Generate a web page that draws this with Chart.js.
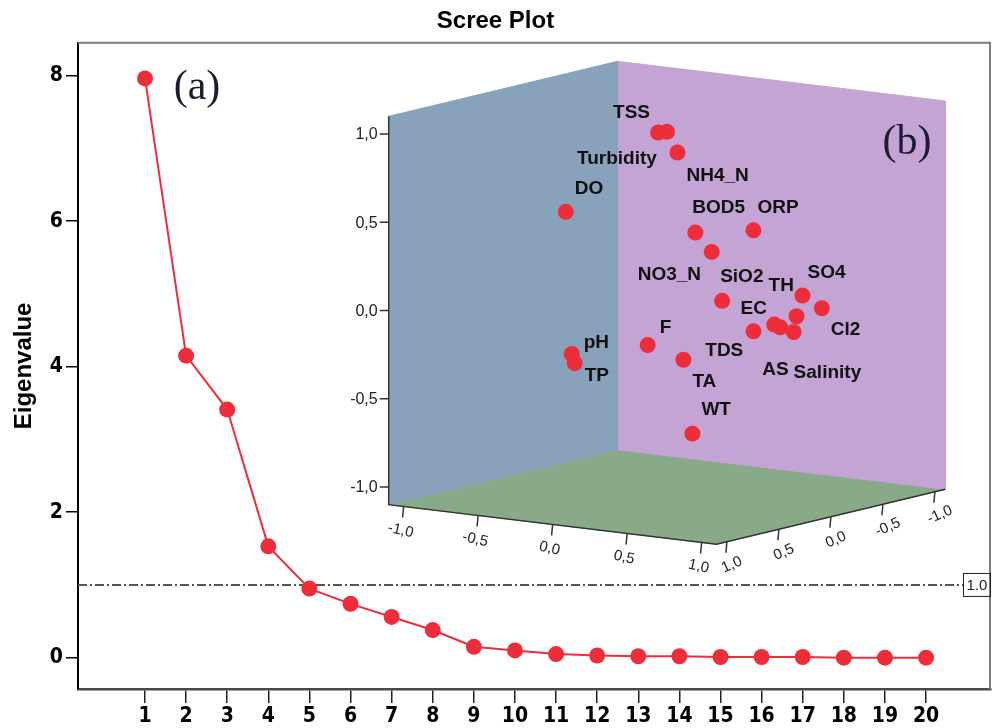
<!DOCTYPE html>
<html>
<head>
<meta charset="utf-8">
<script src="https://cdn.jsdelivr.net/npm/chart.js@4.4.1/dist/chart.umd.min.js"></script>
<style>
    body { margin: 0; background: #fff; }
    #wrap { position: relative; width: 995px; height: 728px; }
    #wrap canvas { position: absolute; left: 0; top: 0; }
    #inset { pointer-events: none; }
</style>
</head>
<body>
<div id="wrap">
    <canvas id="scree" width="995" height="728"></canvas>
    <canvas id="inset" width="995" height="728"></canvas>
</div>
<script>
// scree plot data
const components = [1, 2, 3, 4, 5, 6, 7, 8, 9, 10, 11, 12, 13, 14, 15, 16, 17, 18, 19, 20];
const eigenvalues = [7.96, 4.15, 3.41, 1.53, 0.95, 0.74, 0.56, 0.38, 0.15, 0.10, 0.05, 0.03, 0.02, 0.02, 0.01, 0.01, 0.01, 0.00, 0.00, 0.00];
const yTicks = [0, 2, 4, 6, 8];
const cutoff = 1.0;

// component plot (b) data: loadings on the three plotted axes
const variables = ['TSS', 'Turbidity', 'NH4_N', 'DO', 'BOD5', 'ORP', 'NO3_N', 'SiO2', 'SO4', 'Cl2',
                   'TH', 'TDS', 'AS', 'Salinity', 'EC', 'F', 'pH', 'TP', 'TA', 'WT'];
const loadVertical = [0.98, 0.99, 0.88, 0.51, 0.46, 0.47, 0.34, 0.07, 0.07, -0.01,
                      -0.03, -0.05, -0.04, -0.10, -0.06, -0.21, -0.27, -0.32, -0.29, -0.66];
const loadLeft = [0.01, 0.07, 0.14, -0.47, 0.33, 0.58, 0.37, 0.44, 0.70, 0.76,
                  0.73, 0.72, 0.83, 0.78, 0.72, 0.01, -0.36, -0.34, 0.18, 0.38];
const loadRight = [0.1, 0.1, 0.1, 0.3, 0.2, 0.0, 0.1, 0.1, -0.3, -0.4,
                   -0.2, 0.0, 0.1, -0.1, 0.2, 0.2, 0.4, 0.4, 0.1, 0.3];
const cubeTicks = [-1.0, -0.5, 0.0, 0.5, 1.0];

// label offsets from each point (px)
const labelOffsets = [[-45, -20], [-90, 27], [9, 23], [9, -23], [-3, -25], [4, -23], [-74, 23], [-2, -24], [5, -23], [9, 22],
                      [-28, -30], [-69, 26], [-18, 42], [0, 41], [-13, -23], [12, -17], [12, -11], [10, 13], [9, 22], [9, -24]];

const RED = '#ee2d3a';
const SANS = "'Liberation Sans', Arial, sans-serif";
const NARROW = "'Liberation Sans Narrow', 'DejaVu Sans', sans-serif";
const SERIF = "'Liberation Serif', 'Times New Roman', serif";

// ---------- main scree chart ----------
const screeDecor = {
    id: 'screeDecor',
    beforeDatasetsDraw(chart) {
        const { ctx, chartArea: a, scales: { y } } = chart;
        ctx.save();
        // top and right frame
        ctx.strokeStyle = '#7a7a7a';
        ctx.lineWidth = 2;
        ctx.beginPath();
        ctx.moveTo(a.left, a.top);
        ctx.lineTo(a.right - 1, a.top);
        ctx.lineTo(a.right - 1, a.bottom);
        ctx.stroke();

        // eigenvalue = 1 reference line
        const yp = y.getPixelForValue(cutoff);
        const boxL = a.right - 28;
        ctx.strokeStyle = '#555';
        ctx.lineWidth = 2;
        ctx.setLineDash([9, 3, 2, 3]);
        ctx.beginPath();
        ctx.moveTo(a.left, yp);
        ctx.lineTo(boxL, yp);
        ctx.stroke();
        ctx.setLineDash([]);
        ctx.lineWidth = 1;
        ctx.strokeStyle = '#222';
        ctx.strokeRect(boxL + 0.5, yp - 11.5, a.right - boxL - 1, 23);
        ctx.fillStyle = '#222';
        ctx.font = '15px ' + SANS;
        ctx.textAlign = 'center';
        ctx.textBaseline = 'middle';
        ctx.fillText(cutoff.toFixed(1), (boxL + a.right) / 2, yp + 1);

        // panel letter
        ctx.fillStyle = '#1c1c30';
        ctx.font = '42px ' + SERIF;
        ctx.fillText('(a)', 197, 88);
        ctx.restore();
    }
};

new Chart(document.getElementById('scree'), {
    type: 'line',
    data: {
        datasets: [{
            data: components.map((c, i) => ({ x: c, y: eigenvalues[i] })),
            borderColor: RED,
            borderWidth: 2,
            backgroundColor: RED,
            pointRadius: 8,
            pointHoverRadius: 8,
            pointBorderWidth: 0,
            tension: 0
        }]
    },
    options: {
        responsive: false,
        animation: false,
        devicePixelRatio: 1,
        layout: { autoPadding: false, padding: { left: 0, right: 4, top: 0, bottom: 0 } },
        scales: {
            x: {
                type: 'linear',
                min: -0.63,
                max: 21.58,
                afterBuildTicks: scale => { scale.ticks = components.map(v => ({ value: v })); },
                afterFit: scale => { scale.height = 39; },
                grid: { drawOnChartArea: false, drawTicks: true, tickLength: 14, color: '#222', lineWidth: 1.5 },
                border: { color: '#4a4a4a', width: 2.5 },
                ticks: { color: '#000', padding: 1, maxRotation: 0, font: { family: NARROW, size: 21, weight: 'bold condensed' } }
            },
            y: {
                min: -0.43,
                max: 8.45,
                afterBuildTicks: scale => { scale.ticks = yTicks.map(v => ({ value: v })); },
                afterFit: scale => { scale.width = 78; },
                grid: { drawOnChartArea: false, drawTicks: true, tickLength: 12, color: '#000', lineWidth: 1.5 },
                border: { color: '#000', width: 2 },
                ticks: { color: '#000', padding: 3, font: { family: NARROW, size: 21, weight: 'bold condensed' } },
                title: {
                    display: true,
                    text: 'Eigenvalue',
                    color: '#000',
                    padding: { top: 10, bottom: 0 },
                    font: { family: SANS, size: 24, weight: 'bold' }
                }
            }
        },
        plugins: {
            legend: { display: false },
            tooltip: { enabled: false },
            title: {
                display: true,
                text: 'Scree Plot',
                color: '#000',
                padding: { top: 7, bottom: 7 },
                font: { family: SANS, size: 24, weight: 'bold' }
            }
        }
    },
    plugins: [screeDecor]
});

// ---------- inset component plot ----------
// oblique projection of the (left, right, vertical) axes onto the page
const proj = { ox: 667, oy: 302.8, ax: 149, ay: 18, cx: -104, cy: 25, hy: 176.5 };
const E = 1.1;

function project(a, c, h) {
    return { x: proj.ox + proj.ax * a + proj.cx * c, y: proj.oy + proj.ay * a + proj.cy * c - proj.hy * h };
}

function polygon(corners) {
    const pts = corners.map(p => project(p[0], p[1], p[2]));
    pts.push(pts[0]);
    return pts;
}

function face(corners, color) {
    return {
        data: polygon(corners),
        order: 2,
        showLine: true,
        fill: 'shape',
        backgroundColor: color,
        borderColor: color,
        borderWidth: 1,
        pointRadius: 0,
        pointHoverRadius: 0
    };
}

const fmt = v => v.toFixed(1).replace('.', ',');

const insetDecor = {
    id: 'insetDecor',
    afterDatasetsDraw(chart) {
        const { ctx } = chart;
        ctx.save();
        ctx.strokeStyle = '#333';
        ctx.lineWidth = 1.5;

        // visible cube edges
        const lb = project(-E, E, -E), lt = project(-E, E, E), fr = project(E, E, -E), rt = project(E, -E, -E);
        ctx.beginPath();
        ctx.moveTo(lt.x, lt.y);
        ctx.lineTo(lb.x, lb.y);
        ctx.lineTo(fr.x, fr.y);
        ctx.lineTo(rt.x, rt.y);
        ctx.stroke();

        ctx.fillStyle = '#222';
        ctx.font = '16px ' + SANS;

        // vertical axis
        ctx.textAlign = 'right';
        ctx.textBaseline = 'middle';
        cubeTicks.forEach(v => {
            const p = project(-E, E, v);
            ctx.beginPath();
            ctx.moveTo(p.x - 9, p.y);
            ctx.lineTo(p.x, p.y);
            ctx.stroke();
            ctx.fillText(fmt(v), p.x - 11, p.y + 1);
        });

        // front-left floor axis
        ctx.textAlign = 'center';
        ctx.font = '15px ' + SANS;
        cubeTicks.forEach(v => {
            const p = project(v, E, -E);
            ctx.beginPath();
            ctx.moveTo(p.x, p.y);
            ctx.lineTo(p.x - 1, p.y + 11);
            ctx.stroke();
            ctx.save();
            ctx.translate(p.x - 3, p.y + 24);
            ctx.rotate(0.22);
            ctx.fillText(fmt(v), 0, 0);
            ctx.restore();
        });

        // front-right floor axis
        cubeTicks.forEach(v => {
            const p = project(E, v, -E);
            ctx.beginPath();
            ctx.moveTo(p.x, p.y);
            ctx.lineTo(p.x - 1, p.y + 11);
            ctx.stroke();
            ctx.save();
            ctx.translate(p.x + 5, p.y + 23);
            ctx.rotate(-0.42);
            ctx.fillText(fmt(v), 0, 0);
            ctx.restore();
        });

        // point labels
        const meta = chart.getDatasetMeta(0);
        ctx.fillStyle = '#111';
        ctx.font = 'bold 19px ' + SANS;
        ctx.textAlign = 'left';
        ctx.textBaseline = 'middle';
        meta.data.forEach((pt, i) => {
            ctx.fillText(variables[i], pt.x + labelOffsets[i][0], pt.y + labelOffsets[i][1]);
        });

        ctx.fillStyle = '#1c1c30';
        ctx.font = '42px ' + SERIF;
        ctx.textAlign = 'center';
        ctx.fillText('(b)', 907, 143);
        ctx.restore();
    }
};

new Chart(document.getElementById('inset'), {
    type: 'scatter',
    data: {
        datasets: [
            {
                data: variables.map((v, i) => project(loadLeft[i], loadRight[i], loadVertical[i])),
                order: 1,
                backgroundColor: RED,
                borderColor: RED,
                borderWidth: 0,
                pointRadius: 8,
                pointHoverRadius: 8
            },
            face([[-E, E, -E], [-E, E, E], [-E, -E, E], [-E, -E, -E]], '#87a2ba'),
            face([[-E, -E, -E], [-E, -E, E], [E, -E, E], [E, -E, -E]], '#c4a3d5'),
            face([[-E, E, -E], [E, E, -E], [E, -E, -E], [-E, -E, -E]], '#89aa88')
        ]
    },
    options: {
        responsive: false,
        animation: false,
        devicePixelRatio: 1,
        layout: { autoPadding: false, padding: 0 },
        scales: {
            x: { type: 'linear', min: 0, max: 995, display: false },
            y: { type: 'linear', min: 0, max: 728, reverse: true, display: false }
        },
        plugins: { legend: { display: false }, tooltip: { enabled: false } }
    },
    plugins: [insetDecor]
});
</script>
</body>
</html>
